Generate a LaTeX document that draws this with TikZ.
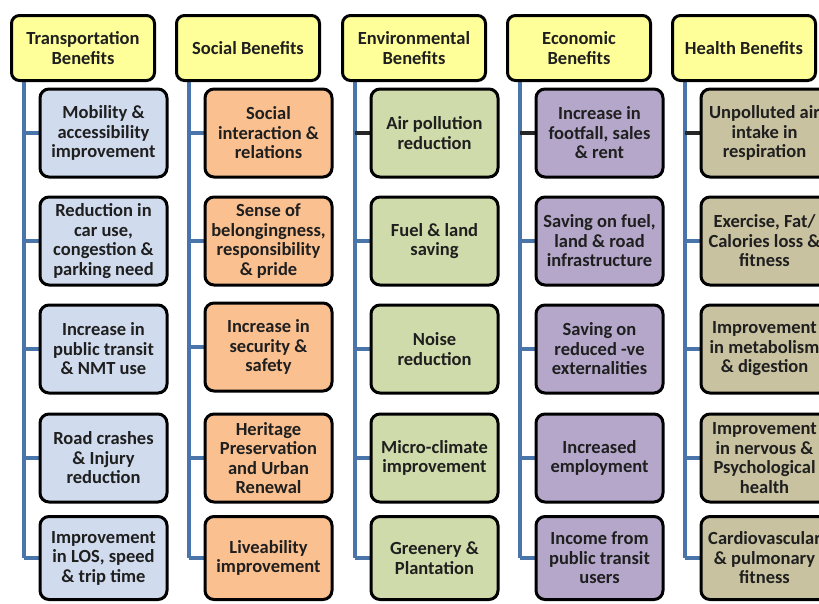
\documentclass[tikz,border=0pt]{standalone}
\usepackage{fontspec}
\setmainfont{Carlito}
\usetikzlibrary{backgrounds}

\definecolor{headyellow}{HTML}{FFFF99}
\definecolor{transblue}{HTML}{D0DBEE}
\definecolor{socorange}{HTML}{FAC090}
\definecolor{envgreen}{HTML}{CFDBAA}
\definecolor{econpurple}{HTML}{B4A7C9}
\definecolor{healthtan}{HTML}{C8C2A0}
\definecolor{trunkblue}{HTML}{4A75AB}
\newcommand{\benfont}{\fontsize{18.5}{19.5}\selectfont\bfseries\color{black!88}}

\begin{document}
\begin{tikzpicture}[x=1pt, y=-1pt,
  hdr/.style={draw=black, line width=3pt, rounded corners=8pt, fill=headyellow,
    minimum width=143pt, minimum height=65pt, inner sep=0pt, align=center, font=\benfont},
  ben/.style={draw=black, line width=3pt, rounded corners=9pt,
    minimum width=127pt, minimum height=88pt, inner sep=0pt, align=center, font=\benfont},
  trunk/.style={draw=trunkblue, line width=4pt},
  twig/.style={draw=trunkblue, line width=3.5pt},
  twigdark/.style={draw=black!85, line width=3.5pt}]
\useasboundingbox (0,0) rectangle (819,603);
\clip (0,0) rectangle (819,603);

% Transportation
\node[hdr] (tr) at (83,48) {Transportation\\Benefits};
\node[ben, fill=transblue] (tr1) at (103.5,133) {Mobility \&\\accessibility\\improvement};
\node[ben, fill=transblue] (tr2) at (103.5,241) {Reduction in\\car use,\\congestion \&\\parking need};
\node[ben, fill=transblue] (tr3) at (103.5,349) {Increase in\\public transit\\\& NMT use};
\node[ben, fill=transblue] (tr4) at (103.5,458) {Road crashes\\\& Injury\\reduction};
\node[ben, fill=transblue, minimum height=83pt] (tr5) at (103.5,558) {Improvement\\in LOS, speed\\\& trip time};

% Social
\node[hdr] (so) at (248,48) {Social Benefits};
\node[ben, fill=socorange] (so1) at (268.5,133) {Social\\interaction \&\\relations};
\node[ben, fill=socorange] (so2) at (268.5,241) {Sense of\\belongingness,\\responsibility\\\& pride};
\node[ben, fill=socorange] (so3) at (268.5,347) {Increase in\\security \&\\safety};
\node[ben, fill=socorange] (so4) at (268.5,458) {Heritage\\Preservation\\and Urban\\Renewal};
\node[ben, fill=socorange, minimum height=83pt] (so5) at (268.5,558) {Liveability\\improvement};

% Environmental
\node[hdr] (en) at (414,48) {Environmental\\Benefits};
\node[ben, fill=envgreen] (en1) at (434.5,133) {Air pollution\\reduction};
\node[ben, fill=envgreen] (en2) at (434.5,241) {Fuel \& land\\saving};
\node[ben, fill=envgreen] (en3) at (434.5,349) {Noise\\reduction};
\node[ben, fill=envgreen] (en4) at (434.5,458) {Micro-climate\\improvement};
\node[ben, fill=envgreen, minimum height=83pt] (en5) at (434.5,558) {Greenery \&\\Plantation};

% Economic
\node[hdr] (ec) at (579,48) {Economic\\Benefits};
\node[ben, fill=econpurple] (ec1) at (599.5,133) {Increase in\\footfall, sales\\\& rent};
\node[ben, fill=econpurple] (ec2) at (599.5,241) {Saving on fuel,\\land \& road\\infrastructure};
\node[ben, fill=econpurple] (ec3) at (599.5,349) {Saving on\\reduced -ve\\externalities};
\node[ben, fill=econpurple] (ec4) at (599.5,458) {Increased\\employment};
\node[ben, fill=econpurple, minimum height=83pt] (ec5) at (599.5,558) {Income from\\public transit\\users};

% Health
\node[hdr] (he) at (744,48) {Health Benefits};
\node[ben, fill=healthtan] (he1) at (764.5,133) {Unpolluted air\\intake in\\respiration};
\node[ben, fill=healthtan] (he2) at (764.5,241) {Exercise, Fat/\\Calories loss \&\\fitness};
\node[ben, fill=healthtan] (he3) at (764.5,349) {Improvement\\in metabolism\\\& digestion};
\node[ben, fill=healthtan] (he4) at (764.5,458) {Improvement\\in nervous \&\\Psychological\\health};
\node[ben, fill=healthtan, minimum height=83pt] (he5) at (764.5,558) {Cardiovascular\\\& pulmonary\\fitness};

% Trunks and branches
\begin{scope}[on background layer]
\coordinate (trT) at ([xshift=14pt]tr.south west);
\draw[trunk] (trT) -- (trT |- tr5.west);
\draw[twig] (trT |- tr1.west) -- (tr1.west);
\draw[twig] (trT |- tr2.west) -- (tr2.west);
\draw[twig] (trT |- tr3.west) -- (tr3.west);
\draw[twig] (trT |- tr4.west) -- (tr4.west);
\draw[twig] (trT |- tr5.west) -- (tr5.west);

\coordinate (soT) at ([xshift=14pt]so.south west);
\draw[trunk] (soT) -- (soT |- so5.west);
\draw[twig] (soT |- so1.west) -- (so1.west);
\draw[twig] (soT |- so2.west) -- (so2.west);
\draw[twig] (soT |- so3.west) -- (so3.west);
\draw[twig] (soT |- so4.west) -- (so4.west);
\draw[twig] (soT |- so5.west) -- (so5.west);

\coordinate (enT) at ([xshift=14pt]en.south west);
\draw[trunk] (enT) -- (enT |- en5.west);
\draw[twigdark] (enT |- en1.west) -- (en1.west);
\draw[twig] (enT |- en2.west) -- (en2.west);
\draw[twig] (enT |- en3.west) -- (en3.west);
\draw[twig] (enT |- en4.west) -- (en4.west);
\draw[twig] (enT |- en5.west) -- (en5.west);

\coordinate (ecT) at ([xshift=14pt]ec.south west);
\draw[trunk] (ecT) -- (ecT |- ec5.west);
\draw[twigdark] (ecT |- ec1.west) -- (ec1.west);
\draw[twig] (ecT |- ec2.west) -- (ec2.west);
\draw[twig] (ecT |- ec3.west) -- (ec3.west);
\draw[twig] (ecT |- ec4.west) -- (ec4.west);
\draw[twig] (ecT |- ec5.west) -- (ec5.west);

\coordinate (heT) at ([xshift=14pt]he.south west);
\draw[trunk] (heT) -- (heT |- he5.west);
\draw[twigdark] (heT |- he1.west) -- (he1.west);
\draw[twig] (heT |- he2.west) -- (he2.west);
\draw[twig] (heT |- he3.west) -- (he3.west);
\draw[twig] (heT |- he4.west) -- (he4.west);
\draw[twig] (heT |- he5.west) -- (he5.west);
\end{scope}
\end{tikzpicture}
\end{document}
